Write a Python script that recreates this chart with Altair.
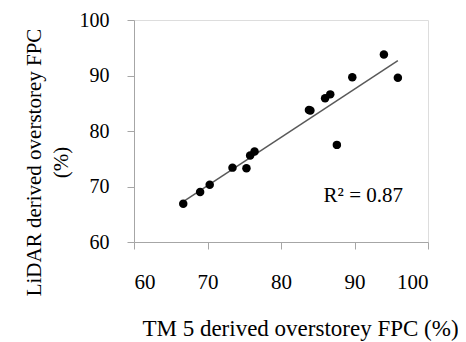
import altair as alt
import pandas as pd

tm5_fpc = [66.7, 69.0, 70.3, 73.4, 75.3, 75.8, 76.4, 83.8, 84.0, 86.0, 86.7, 87.6, 89.7, 94.0, 95.9]
lidar_fpc = [66.9, 69.0, 70.3, 73.4, 73.3, 75.6, 76.3, 83.8, 83.7, 85.9, 86.6, 77.5, 89.7, 93.8, 89.6]
axis_ticks = [60, 70, 80, 90, 100]
r2_label = ["R\u00b2 = 0.87"]
r2_pos_x = [91.2]
r2_pos_y = [68.3]

df = pd.DataFrame({"x": tm5_fpc, "y": lidar_fpc})
ann = pd.DataFrame({"x": r2_pos_x, "y": r2_pos_y, "t": r2_label})

FONT = "Liberation Serif"
GRAY = "#a6a6a6"

xscale = alt.Scale(domain=[60, 100], nice=False, zero=False)
yscale = alt.Scale(domain=[60, 100], nice=False, zero=False)

xaxis = alt.Axis(values=axis_ticks, grid=False, domainColor=GRAY, tickColor=GRAY,
                 tickSize=7, labelFont=FONT, labelFontSize=21, labelColor="black",
                 labelPadding=22, title="TM 5 derived overstorey FPC (%)",
                 titleFont=FONT, titleFontSize=23, titleFontWeight="normal",
                 titleColor="black", titleX=166, titleY=93, titleBaseline="alphabetic",
                 titleAnchor="middle", titleAlign="center")
yaxis = alt.Axis(values=axis_ticks, grid=False, domainColor=GRAY, tickColor=GRAY,
                 tickSize=7, labelFont=FONT, labelFontSize=20, labelColor="black",
                 labelPadding=18, title=["LiDAR derived overstorey FPC", "(%)"],
                 titleFont=FONT, titleFontSize=21, titleFontWeight="normal",
                 titleColor="black", titleX=-100, titleY=142, titleBaseline="middle",
                 titleAlign="center", titleAngle=-90, titleLineHeight=27)

base = alt.Chart(df)

points = base.mark_circle(size=72, color="black", opacity=1).encode(
    x=alt.X("x:Q", scale=xscale, axis=xaxis),
    y=alt.Y("y:Q", scale=yscale, axis=yaxis),
)

trend = base.transform_regression("x", "y", extent=[66.7, 95.9]).mark_line(
    color="#595959", strokeWidth=1.5
).encode(x=alt.X("x:Q", scale=xscale), y=alt.Y("y:Q", scale=yscale))

label = alt.Chart(ann).mark_text(font=FONT, fontSize=21, color="black",
                                 align="center", baseline="middle").encode(
    x=alt.X("x:Q", scale=xscale), y=alt.Y("y:Q", scale=yscale), text="t:N")

chart = alt.layer(trend, points, label).properties(
    width=294, height=222,
    autosize=alt.AutoSizeParams(type="none"),
    padding={"left": 126, "top": 12, "right": 30, "bottom": 100},
).configure_view(stroke=None).configure(background="white")

chart.save("out.html", embed_options={"renderer": "svg", "actions": False})
